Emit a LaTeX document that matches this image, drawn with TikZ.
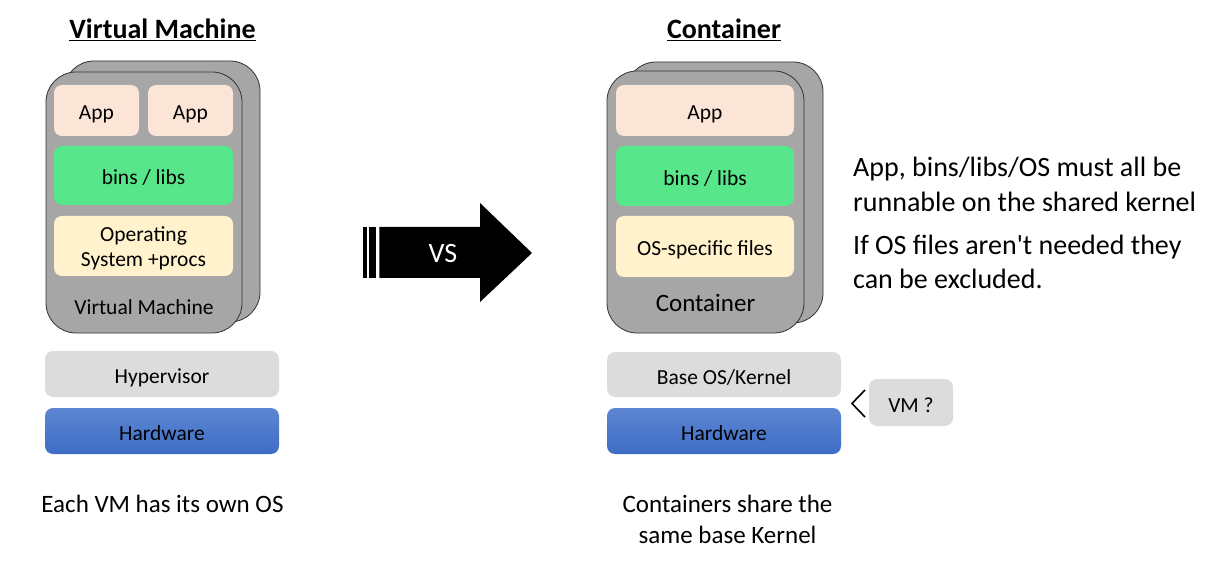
\documentclass[tikz,border=0pt]{standalone}
\usepackage{fontspec}
\setmainfont{Carlito}
\usepackage{tikz}
\usetikzlibrary{positioning}

\definecolor{appfill}{HTML}{FBE5D6}
\definecolor{libfill}{HTML}{58E68B}
\definecolor{osfill}{HTML}{FFF2CC}
\definecolor{shellfill}{HTML}{A6A6A6}
\definecolor{basefill}{HTML}{DCDCDC}
\definecolor{hwtop}{HTML}{5D86D2}
\definecolor{hwbot}{HTML}{3E6DC6}

\begin{document}
\begin{tikzpicture}[x=1pt,y=-1pt,
    boxtext/.style={font=\fontsize{21.5}{25}\selectfont},
    shell/.style={draw=black!80,line width=0.8pt,fill=shellfill,rounded corners=30pt},
    layer/.style={boxtext,rounded corners=8pt,inner sep=0pt,align=center,text height=19pt,text depth=0pt},
    appbox/.style={layer,fill=appfill},
    libbox/.style={layer,fill=libfill},
    osbox/.style={layer,fill=osfill},
    basebox/.style={layer,fill=basefill},
    hwbox/.style={layer,top color=hwtop,bottom color=hwbot},
    caption/.style={font=\fontsize{25}{31}\selectfont,align=center,anchor=base},
    note/.style={font=\fontsize{28}{34.5}\selectfont,align=left,inner sep=0pt,anchor=base west},
    title/.style={font=\fontsize{28}{32}\selectfont\bfseries}]
    \useasboundingbox (0,0) rectangle (1210,569);

    % Virtual machine stack
    \node[title] (vmtitle) at (162.5,30) {\underline{Virtual Machine}};
    \draw[shell] (64,61) rectangle (260,322);
    \draw[shell] (46,72) rectangle (242,333);
    \node[appbox,minimum width=85pt,minimum height=51pt] (vmappA) at (96.5,110.5) {App};
    \node[appbox,minimum width=85pt,minimum height=51pt] (vmappB) at (190.5,110.5) {App};
    \node[libbox,minimum width=179pt,minimum height=59pt] (vmlibs) at (143.5,175.5) {bins / libs};
    \node[osbox,minimum width=179pt,minimum height=60pt,text height=41pt] (vmos) at (143.5,246) {Operating\\System +procs};
    \node[boxtext,text height=19pt,text depth=0pt,inner sep=0pt] (vmname) at (144,305) {Virtual Machine};
    \node[basebox,minimum width=234pt,minimum height=46pt] (hyper) at (162,374) {Hypervisor};
    \node[hwbox,minimum width=234pt,minimum height=46pt] (vmhw) at (162,431) {Hardware};
    \node[caption] (vmnote) at (162.5,512) {Each VM has its own OS};

    % Arrow
    \fill (363.3,227) rectangle (366.7,278);
    \fill (369,227) rectangle (376,278);
    \fill (379.3,227) -- (480,227) -- (480,203) -- (532,253) -- (480,302)
        -- (480,278) -- (379.3,278) -- cycle;
    \node[text=white,font=\fontsize{28}{32}\selectfont] (vs) at (443,254) {VS};

    % Container stack
    \node[title] (cttitle) at (724,30) {\underline{Container}};
    \draw[shell] (626,62) rectangle (823,323);
    \draw[shell] (607,71) rectangle (804,333);
    \node[appbox,minimum width=178pt,minimum height=51pt] (ctapp) at (705,110.5) {App};
    \node[libbox,minimum width=178pt,minimum height=60pt] (ctlibs) at (705,176) {bins / libs};
    \node[osbox,minimum width=178pt,minimum height=61pt] (ctos) at (705,246.5) {OS-specific files};
    \node[font=\fontsize{25}{30}\selectfont,anchor=base,inner sep=0pt] (ctname) at (705.5,311.7) {Container};
    \node[basebox,minimum width=234pt,minimum height=45pt] (kernel) at (724,374.5) {Base OS/Kernel};
    \node[hwbox,minimum width=234pt,minimum height=46pt] (cthw) at (724,431) {Hardware};
    \node[caption] (ctnote) at (727.5,543.3) {Containers share the\\same base Kernel};

    % VM question
    \node[basebox,minimum width=84pt,minimum height=47pt] (vmq) at (911,402.5) {VM ?};
    \draw[line width=1.6pt] (865,390) -- (852,403.5) -- (865,417);

    % Notes
    \node[note] (noteA) at (853,211.5) {App, bins/libs/OS must all be\\runnable on the shared kernel};
    \node[note] (noteB) at (853,289) {If OS files aren\textquotesingle t needed they\\can be excluded.};
\end{tikzpicture}
\end{document}
